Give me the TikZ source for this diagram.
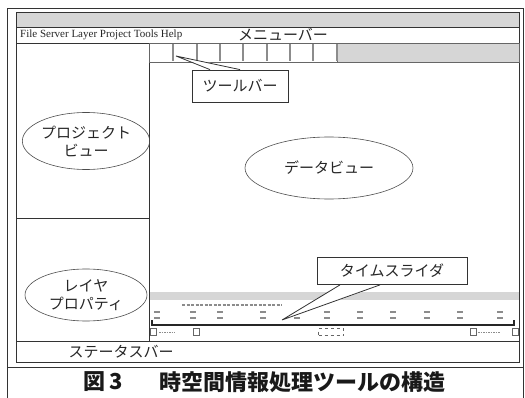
\documentclass[tikz,border=0pt]{standalone}
\usepackage{fontspec}
\setmainfont{Liberation Serif}
\newfontfamily\jp{Noto Sans CJK JP}
\usetikzlibrary{shapes.geometric}
\begin{document}
\begin{tikzpicture}[x=1pt,y=-1pt,
  pane/.style={draw=black!80,line width=0.8pt,inner sep=0pt,outer sep=0pt,anchor=north west},
  oval/.style={ellipse,draw=black!70,line width=0.6pt,inner sep=0pt},
  lbl/.style={font=\jp\fontsize{15}{18}\selectfont,text=black!85,align=center},
  callout/.style={draw=black!80,line width=0.8pt,fill=white},
  sep/.style={draw=black!45,line width=2pt},
  tick/.style={draw=black!45,line width=1.2pt},
  tinybox/.style={draw=black!60,line width=0.5pt,minimum width=6pt,minimum height=7pt,inner sep=0pt},
  captxt/.style={font=\jp\bfseries\fontsize{22}{24}\selectfont,text=black!90},
]
\useasboundingbox (0,0) rectangle (525,398);
% outer frame and caption divider
\node[pane,line width=1pt,minimum width=516pt,minimum height=400pt] (outer) at (7,9) {};
\coordinate (divL) at (7,367);
\coordinate (divR) at (523,367);
\draw[black!80,line width=1pt] (divL) -- (divR);
% window
\node[pane,minimum width=503pt,minimum height=350pt] (win) at (16,12) {};
\node[pane,fill=black!16,minimum width=503pt,minimum height=15pt] (title) at (16,12) {};
\node[pane,minimum width=503pt,minimum height=16pt] (menu) at (16,27) {};
\node[pane,minimum width=133pt,minimum height=175pt] (proj) at (16,43) {};
\node[pane,minimum width=133pt,minimum height=123pt] (layer) at (16,218) {};
\node[pane,minimum width=370pt,minimum height=298pt] (data) at (149,43) {};
\node[pane,minimum width=503pt,minimum height=21pt] (status) at (16,341) {};
% toolbar
\node[pane,draw=black!60,line width=0.5pt,fill=black!16,minimum width=182pt,minimum height=19pt] (tbar) at (337,43) {};
\node[pane,draw=black!60,line width=0.5pt,fill=white,minimum width=188pt,minimum height=19pt] (tbtn) at (149,43) {};
\foreach \x in {173,197,220,243,267,290,313,337} \draw[sep] (\x,44) -- (\x,61);
% menu texts
\node[anchor=west,font=\fontsize{11}{12}\selectfont,text=black!85,inner sep=0pt] (items) at (20,35) {File Server Layer Project Tools Help};
\node[lbl] (menulbl) at (283,35) {メニューバー};
% ellipses
\node[oval,lbl,minimum width=122pt,minimum height=57pt] (pv) at (86,141) {プロジェクト\\ビュー};
\node[oval,lbl,minimum width=122pt,minimum height=52pt] (lp) at (86,295) {レイヤ\\プロパティ};
\node[oval,lbl,minimum width=168pt,minimum height=62pt] (dv) at (329,168) {データビュー};
% time slider area
\fill[black!16] (149.5,292) rectangle (518.5,300);
\draw[tick,dash pattern=on 3pt off 1.5pt] (182,305) -- (282,305);
\foreach \x in {157,193,220,263,327,360,393,427,460,500} \draw[tick] (\x-3,312) -- (\x+3,312);
\foreach \x in {157,193,220,263,297,327,360,393,427,460,500} \draw[tick] (\x-3,318) -- (\x+3,318);
\coordinate (barL) at (152,320);
\coordinate (barR) at (514,320);
\draw[black!85,line width=1.4pt] (barL) -- ++(0,5) -| (barR);
\node[tinybox] (b1) at (153,332) {};
\node[tinybox] (b2) at (196,332) {};
\node[tinybox,dashed,minimum width=25pt] (b3) at (331,332) {};
\node[tinybox] (b4) at (473,332) {};
\node[tinybox] (b5) at (515,332) {};
\draw[tick,line width=0.8pt,dash pattern=on 1.5pt off 1pt] (159,332) -- (175,332);
\draw[tick,line width=0.8pt,dash pattern=on 1.5pt off 1pt] (478,332) -- (500,332);
% toolbar callout
\node[callout,lbl,minimum width=96pt,minimum height=32pt] (tb) at (240,86) {ツールバー};
\coordinate (tbtip) at (176,56);
\fill[white] ([xshift=-30pt,yshift=0.8pt]tb.north) -- (tbtip) -- ([yshift=0.8pt]tb.north) -- cycle;
\draw[black!80,line width=0.8pt] ([xshift=-30pt]tb.north) -- (tbtip) -- (tb.north);
% time slider callout
\node[callout,lbl,minimum width=150pt,minimum height=27pt] (ts) at (392,271) {タイムスライダ};
\coordinate (tstip) at (282,320);
\fill[white] ([xshift=-52pt,yshift=-0.8pt]ts.south) -- (tstip) -- ([xshift=-12pt,yshift=-0.8pt]ts.south) -- cycle;
\draw[black!80,line width=0.8pt] ([xshift=-52pt]ts.south) -- (tstip) -- ([xshift=-12pt]ts.south);
% status bar
\node[lbl] (st) at (121,352) {ステータスバー};
% caption
\node[captxt] (fig) at (103,382) {図\,3};
\node[captxt] (cap) at (302,382) {時空間情報処理ツールの構造};
\end{tikzpicture}
\end{document}
